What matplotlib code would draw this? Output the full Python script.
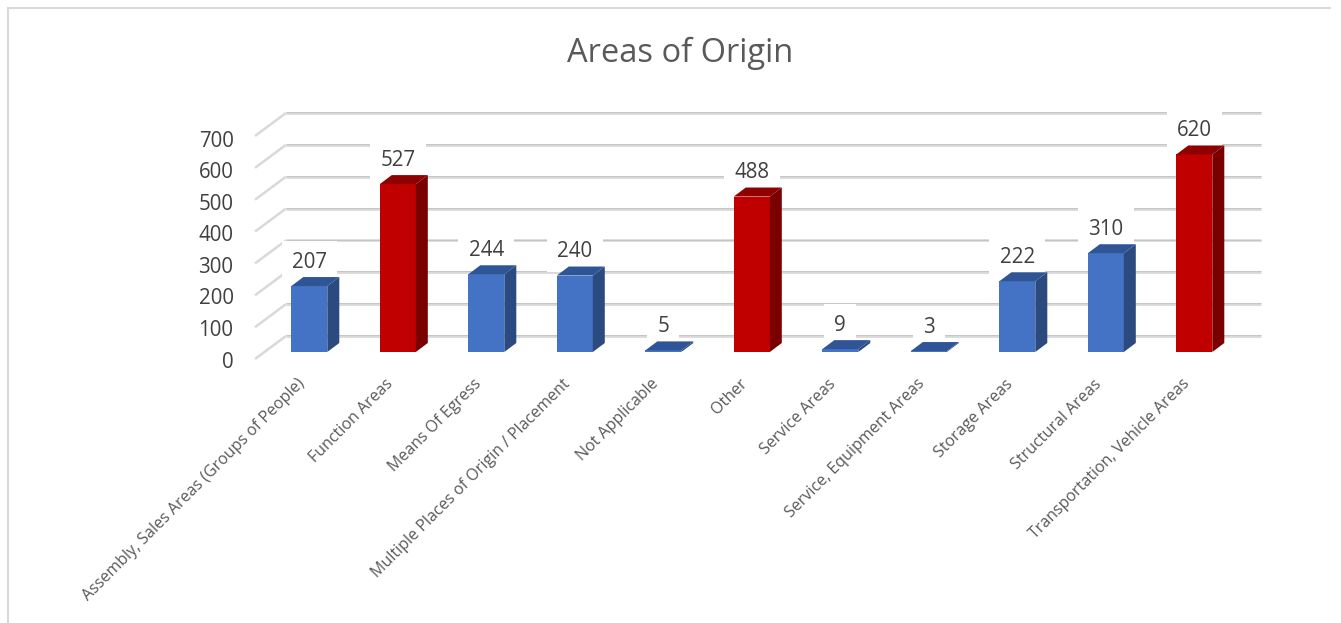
import matplotlib
matplotlib.use("Agg")
import matplotlib.pyplot as plt
from matplotlib.lines import Line2D

categories = [
    "Assembly, Sales Areas (Groups of People)", "Function Areas", "Means Of Egress",
    "Multiple Places of Origin / Placement", "Not Applicable", "Other", "Service Areas",
    "Service, Equipment Areas", "Storage Areas", "Structural Areas",
    "Transportation, Vehicle Areas",
]
values = [207, 527, 244, 240, 5, 488, 9, 3, 222, 310, 620]
y_ticks = [0, 100, 200, 300, 400, 500, 600, 700]

W, H = 1341, 623
PX_PER_CAT = 88.5
PX_PER_UNIT = 0.3186
X0_PX, Y0_PX = 309.3, 352.0

plt.rcParams["font.family"] = ["Open Sans", "DejaVu Sans"]
fig = plt.figure(figsize=(W / 100, H / 100), dpi=100, facecolor="white")
ax = fig.add_axes([0, 0, 1, 1])
ax.set_xlim(-X0_PX / PX_PER_CAT, (W - X0_PX) / PX_PER_CAT)
ax.set_ylim(-(H - Y0_PX) / PX_PER_UNIT, Y0_PX / PX_PER_UNIT)
ax.axis("off")


def dx(px):
    return px / PX_PER_CAT


def dy(px):
    return px / PX_PER_UNIT


# gridlines and side wall
left_back = dx(286 - X0_PX)
right_back = dx(1261 - X0_PX)
left_front = dx(255 - X0_PX)
for t in y_ticks:
    back = t + dy(352 - 336)
    front = t + dy(352 - 359)
    ax.plot([left_back, right_back], [back, back], color="#d9d9d9", lw=2.0,
            solid_capstyle="butt", zorder=1)
    ax.plot([left_back, right_back], [back + dy(0.8), back + dy(0.8)], color="#c2c2c2", lw=0.6,
            solid_capstyle="butt", zorder=1.1)
    ax.plot([left_front, left_back], [front, back], color="#d9d9d9", lw=1.8,
            solid_capstyle="butt", zorder=1)
    ax.text(dx(233.5 - X0_PX), t * 0.99 + dy(352 - 362), str(t), ha="right", va="center",
            fontsize=14.8, color="#404040", zorder=5)

# bars
half = dx(18)
sx, sy = dx(12), dy(9)
for i, (name, v) in enumerate(zip(categories, values)):
    hot = v > 400
    front_c = "#c00000" if hot else "#4472c4"
    side_c = "#7a0000" if hot else "#2a4a80"
    top_c = "#8f0000" if hot else "#2f5597"
    ax.bar(i, v, width=2 * half, color=front_c, zorder=4, linewidth=0)
    r, l = i + half, i - half
    ax.fill([r, r + sx, r + sx, r], [0, sy, v + sy, v], color=side_c, lw=0, zorder=4)
    ax.fill([l, l + sx, r + sx, r], [v, v + sy, v + sy, v], color=top_c, lw=0, zorder=4)
    ax.text(i, v + dy(24), str(v), ha="center", va="center", fontsize=14.8, color="#404040",
            zorder=3, bbox=dict(boxstyle="square,pad=0.5", fc="white", ec="none"))
    ax.text(i + dx(-12.5), dy(352 - 376), name, rotation=45, rotation_mode="anchor",
            ha="right", va="top", fontsize=11.5, color="#595959", zorder=5)

ax.text(dx(680 - X0_PX), dy(352 - 53), "Areas of Origin", ha="center", va="center",
        fontsize=23.5, color="#595959")

# chart frame
frame_c = "#d9d9d9"
fig.add_artist(Line2D([8 / W, 8 / W], [0, 1 - 8 / H], color=frame_c, lw=1.5, transform=fig.transFigure))
fig.add_artist(Line2D([8 / W, 1330 / W], [1 - 8 / H, 1 - 8 / H], color=frame_c, lw=1.5, transform=fig.transFigure))

fig.savefig("out.png", dpi=100, facecolor="white")
